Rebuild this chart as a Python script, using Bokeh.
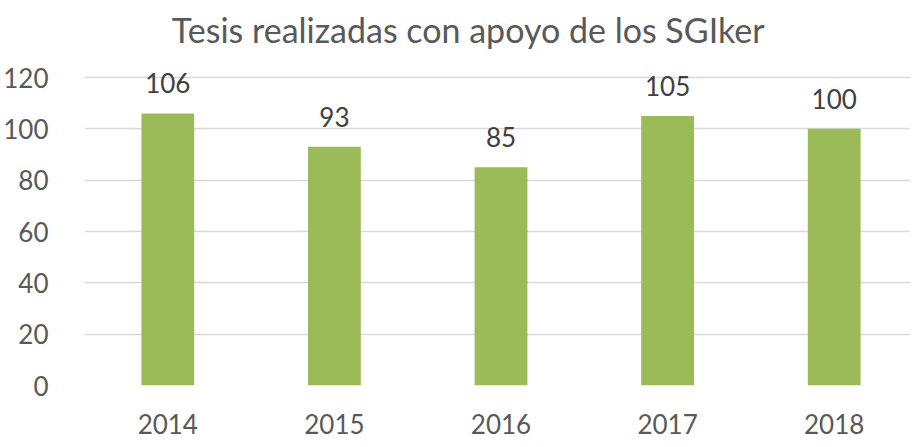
from bokeh.plotting import figure
from bokeh.models import ColumnDataSource, LabelSet, Label, Range1d, FixedTicker
from bokeh.core.properties import value
from bokeh.embed import file_html
from bokeh.resources import INLINE

years = ["2014", "2015", "2016", "2017", "2018"]
tesis = [106, 93, 85, 105, 100]
y_ticks = [0, 20, 40, 60, 80, 100, 120]
title_text = "Tesis realizadas con apoyo de los SGIker"

FONT = "Lato"
GREY = "#595959"

xpos = [i + 0.5 for i in range(len(years))]
src = ColumnDataSource(dict(x=xpos, y=tesis, lbl=[str(v) for v in tesis]))

p = figure(width=910, height=439, x_range=Range1d(0, 4.958), y_range=Range1d(0, 150),
           output_backend="svg", toolbar_location=None, title=None,
           min_border_left=80, min_border_right=0, min_border_top=0, min_border_bottom=54)
p.outline_line_color = None
p.background_fill_color = "white"
p.border_fill_color = "white"

p.vbar(x="x", top="y", width=0.317, source=src, fill_color="#9BBB59", line_color=None)

labels = LabelSet(x="x", y="y", text="lbl", source=src, text_align="center",
                  text_baseline="alphabetic", y_offset=20, text_font_size="26px",
                  text_color="#404040", text_font=value(FONT))
p.add_layout(labels)

title = Label(x=2.303, y=138.7, text=title_text, text_align="center",
              text_baseline="alphabetic", text_font_size="34px", text_color=GREY,
              text_font=FONT)
p.add_layout(title)

p.yaxis.ticker = FixedTicker(ticks=y_ticks)
p.yaxis.axis_line_color = None
p.yaxis.major_tick_line_color = None
p.yaxis.minor_tick_line_color = None
p.yaxis.major_label_text_font_size = "26px"
p.yaxis.major_label_text_color = GREY
p.yaxis.major_label_text_font = FONT
p.yaxis.major_label_standoff = 30

p.xaxis.ticker = FixedTicker(ticks=xpos)
p.xaxis.major_label_overrides = {x: y for x, y in zip(xpos, years)}
p.xaxis.axis_line_color = None
p.xaxis.major_tick_line_color = None
p.xaxis.minor_tick_line_color = None
p.xaxis.major_label_text_font_size = "26px"
p.xaxis.major_label_text_color = GREY
p.xaxis.major_label_text_font = FONT
p.xaxis.major_label_standoff = 22

p.xgrid.grid_line_color = None
p.ygrid.grid_line_color = "#D9D9D9"
p.ygrid.grid_line_width = 1.5

open("out.html", "w").write(file_html(p, INLINE))
